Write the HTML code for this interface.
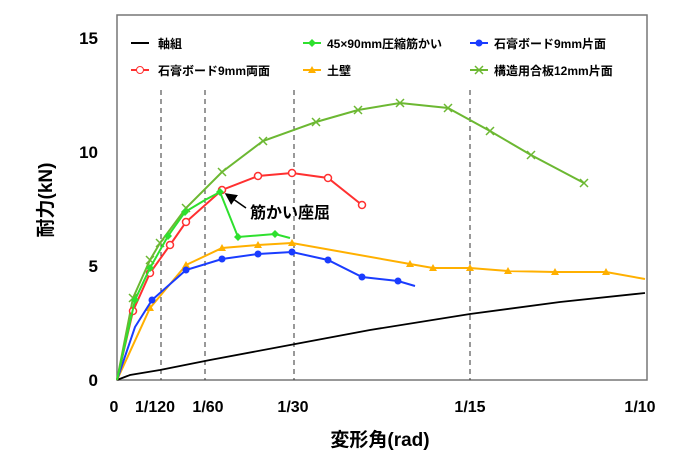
<!DOCTYPE html>
<html><head><meta charset="utf-8"><style>
body{margin:0;background:#fff}
svg text{font-family:"Liberation Sans","Noto Sans CJK JP",sans-serif;font-weight:bold}
</style></head><body>
<svg width="695" height="463" viewBox="0 0 695 463" xmlns="http://www.w3.org/2000/svg">
<defs>
<marker id="ar" markerWidth="8" markerHeight="8" refX="7" refY="4" orient="auto"><path d="M0,0 L8,4 L0,8 z" fill="#000"/></marker>
</defs>
<rect x="117" y="15" width="530" height="365" fill="#fff" stroke="#777" stroke-width="1.5"/>
<g stroke="#333" stroke-dasharray="5,4" stroke-width="1">
<line x1="161" y1="90" x2="161" y2="380"/><line x1="205" y1="90" x2="205" y2="380"/>
<line x1="294" y1="90" x2="294" y2="380"/><line x1="470" y1="90" x2="470" y2="380"/>
</g>
<g font-size="17" text-anchor="end"><text x="98" y="386">0</text><text x="98" y="272">5</text><text x="98" y="158">10</text><text x="98" y="44">15</text></g>
<g font-size="16" text-anchor="middle"><text x="114" y="412">0</text><text x="155" y="412">1/120</text><text x="208" y="412">1/60</text><text x="293" y="412">1/30</text><text x="470" y="412">1/15</text><text x="640" y="412">1/10</text></g>
<text x="380" y="446" font-size="19" text-anchor="middle">変形角(rad)</text>
<text transform="translate(52,200) rotate(-90)" font-size="19" text-anchor="middle">耐力(kN)</text>
<polyline fill="none" stroke="#000" stroke-width="1.8" points="117,380 130,375 160,370 210,360 290,345 370,330 470,314 560,302 645,293"/>
<polyline fill="none" stroke="#ffb000" stroke-width="2" points="117,380 150,308 186,265 222,248 258,245 292,243 410,264 433,268 470,268 508,271 555,272 606,272 645,279"/>
<g fill="#ffb000"><path d="M150,304 l4,7 h-8z M186,261 l4,7 h-8z M222,244 l4,7 h-8z M258,241 l4,7 h-8z M292,239 l4,7 h-8z M410,260 l4,7 h-8z M433,264 l4,7 h-8z M470,264 l4,7 h-8z M508,267 l4,7 h-8z M555,268 l4,7 h-8z M606,268 l4,7 h-8z"/></g>
<polyline fill="none" stroke="#1a3cff" stroke-width="2" points="117,380 135,327 152,300 186,270 222,259 258,254 292,252 328,260 362,277 398,281 415,286"/>
<g fill="#1a3cff"><circle cx="152" cy="300" r="3.5"/><circle cx="186" cy="270" r="3.5"/><circle cx="222" cy="259" r="3.5"/><circle cx="258" cy="254" r="3.5"/><circle cx="292" cy="252" r="3.5"/><circle cx="328" cy="260" r="3.5"/><circle cx="362" cy="277" r="3.5"/><circle cx="398" cy="281" r="3.5"/></g>
<polyline fill="none" stroke="#6cb832" stroke-width="2" points="117,380 133,298 150,260 160,243 186,208 222,172 263,141 316,122 358,110 400,103 448,108 490,131 531,155 584,183"/>
<g stroke="#6cb832" stroke-width="1.5"><path d="M129,294l8,8M137,294l-8,8 M146,256l8,8M154,256l-8,8 M156,239l8,8M164,239l-8,8 M182,204l8,8M190,204l-8,8 M218,168l8,8M226,168l-8,8 M259,137l8,8M267,137l-8,8 M312,118l8,8M320,118l-8,8 M354,106l8,8M362,106l-8,8 M396,99l8,8M404,99l-8,8 M444,104l8,8M452,104l-8,8 M486,127l8,8M494,127l-8,8 M527,151l8,8M535,151l-8,8 M580,179l8,8M588,179l-8,8"/></g>
<polyline fill="none" stroke="#ff3030" stroke-width="2" points="117,380 133,311 150,273 170,245 186,222 222,190 258,176 292,173 328,178 362,205"/>
<g fill="#fff" stroke="#ff3030" stroke-width="1.5"><circle cx="133" cy="311" r="3.5"/><circle cx="150" cy="273" r="3.5"/><circle cx="170" cy="245" r="3.5"/><circle cx="186" cy="222" r="3.5"/><circle cx="222" cy="190" r="3.5"/><circle cx="258" cy="176" r="3.5"/><circle cx="292" cy="173" r="3.5"/><circle cx="328" cy="178" r="3.5"/><circle cx="362" cy="205" r="3.5"/></g>
<polyline fill="none" stroke="#2ee02e" stroke-width="2" points="117,380 135,300 150,268 168,236 185,212 205,200 220,192 238,237 275,234 290,238"/>
<g fill="#2ee02e"><path d="M135,296l4,4-4,4-4-4z M150,264l4,4-4,4-4-4z M168,232l4,4-4,4-4-4z M185,208l4,4-4,4-4-4z M220,188l4,4-4,4-4-4z M238,233l4,4-4,4-4-4z M275,230l4,4-4,4-4-4z"/></g>
<line x1="246" y1="208" x2="226" y2="194" stroke="#000" stroke-width="1.5" marker-end="url(#ar)"/>
<text x="250" y="218" font-size="16">筋かい座屈</text>
<g font-size="12">
<line x1="131" y1="43" x2="149" y2="43" stroke="#000" stroke-width="2"/><text x="158" y="48">軸組</text>
<line x1="131" y1="70" x2="149" y2="70" stroke="#ff3030" stroke-width="2"/><circle cx="140" cy="70" r="3.5" fill="#fff" stroke="#ff3030"/><text x="158" y="75">石膏ボード9mm両面</text>
<line x1="303" y1="43" x2="321" y2="43" stroke="#2ee02e" stroke-width="2"/><path d="M312,39l4,4-4,4-4-4z" fill="#2ee02e"/><text x="327" y="48">45×90mm圧縮筋かい</text>
<line x1="303" y1="70" x2="321" y2="70" stroke="#ffb000" stroke-width="2"/><path d="M312,66l4,7h-8z" fill="#ffb000"/><text x="327" y="75">土壁</text>
<line x1="470" y1="43" x2="488" y2="43" stroke="#1a3cff" stroke-width="2"/><circle cx="479" cy="43" r="3.5" fill="#1a3cff"/><text x="494" y="48">石膏ボード9mm片面</text>
<line x1="470" y1="70" x2="488" y2="70" stroke="#6cb832" stroke-width="2"/><path d="M475,66l8,8M483,66l-8,8" stroke="#6cb832" stroke-width="1.5"/><text x="494" y="75">構造用合板12mm片面</text>
</g>
</svg>
</body></html>
